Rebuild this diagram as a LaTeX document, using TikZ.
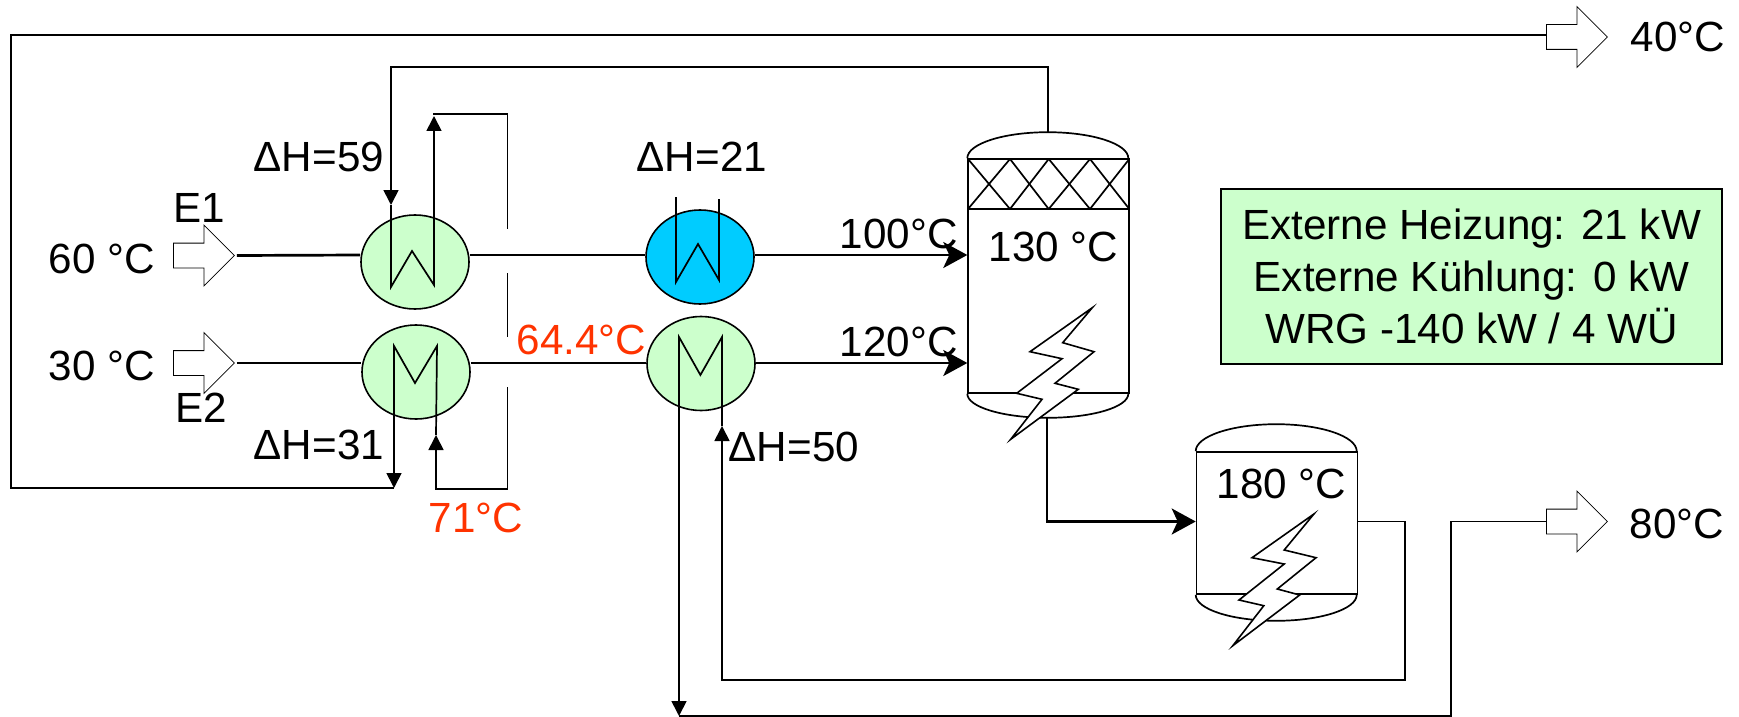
\documentclass[tikz,border=0pt]{standalone}
\usepackage{fontspec}
\setmainfont{Liberation Sans}
\usetikzlibrary{shapes.arrows}
\usetikzlibrary{shapes.geometric}
\usetikzlibrary{arrows.meta}
\definecolor{hxgreen}{HTML}{CCFFCC}
\definecolor{hxblue}{HTML}{00CCFF}
\definecolor{tempred}{HTML}{FF3300}

\begin{document}
\begin{tikzpicture}[
        x = 0.5pt, y = -0.5pt,
        every node/.style = {font = \fontsize{21.1}{26}\selectfont},
        exchanger/.style = {draw, ellipse, line width = 0.8pt, inner sep = 0pt, minimum width = 54pt, minimum height = 47pt},
        flow/.style = {draw, single arrow, line width = 0.4pt, fill = white, inner xsep = 0pt, inner ysep = 6pt, minimum height = 30.5pt, single arrow head extend = 9pt, anchor = tail},
        vessel/.style = {draw, rectangle, line width = 0.8pt, inner sep = 0pt, minimum width = 80.5pt},
        label/.style = {anchor = base west, inner sep = 0pt, xshift = -0.8pt},
        bolt/.style = {draw, line width = 0.8pt, fill = white, line join = miter},
        main/.style = {line width = 1.35pt},
        pipe/.style = {line width = 0.85pt},
        coil/.style = {-{Triangle[length = 7.5pt, width = 7.5pt]}},
        feed/.style = {-{Stealth[length = 12pt, width = 13pt, inset = 3pt]}},
        ]
        \useasboundingbox (0,0) rectangle (1739,717);

        \coordinate (levela) at (0,255);
        \coordinate (levelb) at (0,363);
        \coordinate (levelc) at (0,521.5);
        \coordinate (levelo) at (0,35);

        \node[exchanger, fill = hxgreen] (hxa) at (415,262) {};
        \node[exchanger, fill = hxgreen] (hxb) at (416,372) {};
        \node[exchanger, fill = hxblue] (hxc) at (700,257) {};
        \node[exchanger, fill = hxgreen] (hxd) at (701,363.5) {};

        \node[flow] (ina) at (173,255.5) {};
        \node[flow] (inb) at (173,363) {};
        \node[flow] (outa) at (1546,37) {};
        \node[flow] (outb) at (1546,521.5) {};

        \node[vessel, minimum height = 117pt] (cola) at (1048.6,276) {};
        \node[vessel, minimum height = 71pt] (colb) at (1277,523) {};
        \draw[pipe] (cola.north west) arc[start angle = 180, end angle = 0, x radius = 40.25pt, y radius = 13pt] coordinate (topa);
        \draw[pipe] (cola.south west) arc[start angle = 180, end angle = 360, x radius = 40.25pt, y radius = 12pt];
        \draw[pipe] (colb.north west) arc[start angle = 180, end angle = 0, x radius = 40.25pt, y radius = 13.5pt];
        \draw[pipe] (colb.south west) arc[start angle = 180, end angle = 360, x radius = 40.25pt, y radius = 13pt];
        \draw[pipe] (968,209) -- (1129.3,209);
        \foreach \xa/\xb in {968/1010, 1010/968, 1010/1048.7, 1048.7/1010, 1048.7/1090, 1090/1048.7, 1090/1129.3, 1129.3/1090}
            \draw[pipe] (\xa,159) -- (\xb,209);

        \coordinate (domea) at (1048,133);
        \coordinate (bota) at (1047,417);
        \coordinate (raila) at (700,67);
        \coordinate (hatop) at (391,205);
        \coordinate (haup) at (434,116);
        \coordinate (hbleft) at (394,488);
        \coordinate (hbright) at (436,435);
        \coordinate (hdleft) at (679,716);
        \coordinate (hdright) at (722,426);
        \coordinate (corner) at (11,35);
        \coordinate (returna) at (1405,680);
        \coordinate (returnb) at (1451,716);
        \coordinate (sa) at (433,114);
        \coordinate (sb) at (507.5,229);
        \coordinate (sc) at (507.5,273);
        \coordinate (sd) at (507.5,337);
        \coordinate (se) at (507.5,387);
        \coordinate (sf) at (507.5,489);

        \draw[main] (ina.tip) ++(2,0) -- (hxa.west |- levela);
        \draw[main] (inb.tip) ++(2,0) -- (hxb.west |- levelb);
        \draw[main] (hxa.east |- levela) -- (hxc.west |- levela);
        \draw[main] (hxb.east |- levelb) -- (hxd.west |- levelb);
        \draw[main, feed] (hxc.east |- levela) -- (cola.west |- levela);
        \draw[main, feed] (hxd.east |- levelb) -- (cola.west |- levelb);
        \draw[main, feed] (bota) |- (colb.west |- levelc);

        \draw[pipe, coil] (domea) |- (raila) -| (hatop);
        \draw[pipe, coil] (hatop) -- (391,287) -- (412,251) -- (434,285) -- (haup);
        \draw[pipe] (sa) -| (sb);
        \draw[pipe] (sc) -- (sd);
        \draw[pipe, coil] (se) -- (sf) -| (hbright);
        \draw[pipe, coil] (hbright) -- (437,346) -- (415,383) -- (394,346) -- (hbleft);
        \draw[pipe] (hbleft) -| (corner) -- (outa.tail |- levelo);
        \draw[pipe] (676,197) -- (676,282) -- (698,244) -- (719,280) -- (719,199);
        \draw[pipe, coil] (hdright) -- (722,337) -- (700.4,375) -- (679,337) -- (hdleft);
        \draw[pipe, coil] (colb.east |- levelc) -| (returna) -| (hdright);
        \draw[pipe] (hdleft) -- (returnb) |- (outb.tail);

        \draw[bolt] (1092.3,307.7) -- (1030,351.7) -- (1062,358.7) -- (1016.7,393.3) -- (1042,399.3) -- (1010.7,439.3) -- (1078.3,389.3) -- (1055,383.3) -- (1094,351.7) -- (1062.7,342.7) -- cycle;
        \draw[bolt] (1313.9,514) -- (1252,557.7) -- (1284.2,564) -- (1239,600) -- (1263.8,605.7) -- (1232.8,645.7) -- (1299.7,595) -- (1277.3,589) -- (1316,557.7) -- (1284.2,550) -- cycle;

        \node[label] (tina) at (50,273) {60 °C};
        \node[label] (tinb) at (50,380) {30 °C};
        \node[label] (ea) at (175,222) {E1};
        \node[label] (eb) at (177,422) {E2};
        \node[label] (dha) at (255,171) {ΔH=59};
        \node[label] (dhb) at (255,459) {ΔH=31};
        \node[label] (dhc) at (638,171) {ΔH=21};
        \node[label] (dhd) at (730,461) {ΔH=50};
        \node[label, text = tempred] (tmid) at (518,354) {64.4°C};
        \node[label, text = tempred] (tlow) at (430,532) {71°C};
        \node[label] (tfa) at (841,248) {100°C};
        \node[label] (tfb) at (841,356) {120°C};
        \node[label] (tcola) at (990,261) {130 °C};
        \node[label] (tcolb) at (1218,498) {180 °C};
        \node[label] (touta) at (1632,52) {40°C};
        \node[label] (toutb) at (1631,538) {80°C};

        \node[draw, rectangle, fill = hxgreen, line width = 0.9pt, align = center, minimum width = 250.5pt, minimum height = 87.5pt, inner sep = 0pt] (summary) at (1471.5,276.5) {Externe Heizung: 21 kW\\Externe Kühlung: 0 kW\\WRG -140 kW / 4 WÜ};
\end{tikzpicture}
\end{document}
